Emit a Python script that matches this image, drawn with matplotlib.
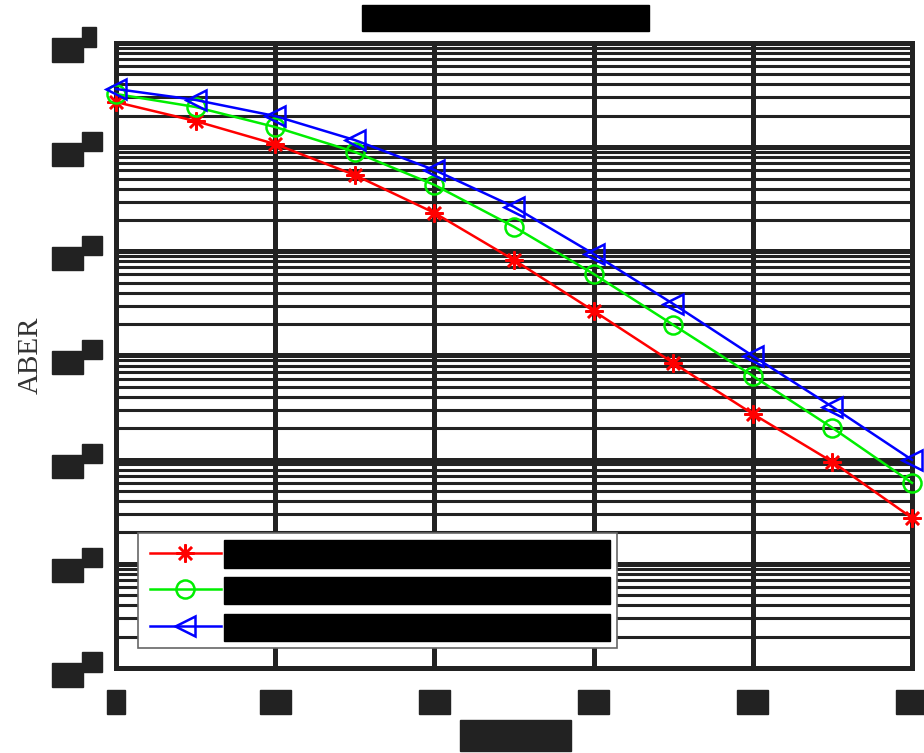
import numpy as np
import matplotlib
matplotlib.use("Agg")
import matplotlib.pyplot as plt
from matplotlib.ticker import LogLocator, NullFormatter
import matplotlib.transforms as mtransforms

# DATA
snr = [0, 5, 10, 15, 20, 25, 30, 35, 40, 45, 50]
aber_red = [0.271, 0.178, 0.107, 0.054, 0.0234, 0.00826, 0.00268, 8.49e-4, 2.75e-4, 9.52e-5, 2.76e-5]
aber_green = [0.324, 0.243, 0.156, 0.090, 0.0434, 0.0172, 0.00607, 0.00197, 6.37e-4, 2.02e-4, 5.99e-5]
aber_blue = [0.362, 0.284, 0.199, 0.117, 0.0604, 0.0267, 0.00944, 0.00313, 9.9e-4, 3.21e-4, 9.96e-5]
labels = ["Proposed detector, perfect CSI, K=2",
          "Proposed detector, imperfect CSI 1%",
          "Optimal ML detector, imperfect CSIR"]
x_ticks = [0, 10, 20, 30, 40, 50]
y_exps = [0, -1, -2, -3, -4, -5, -6]

dark = "#222222"

fig = plt.figure(figsize=(9.24, 7.53), dpi=100)
ax = fig.add_axes([0.1255, 0.1129, 0.8615, 0.83])

ax.set_yscale("log")
ax.set_xlim(0, 50)
ax.set_ylim(1e-6, 1)

# grid
ax.set_xticks(x_ticks)
ax.yaxis.set_major_locator(LogLocator(base=10, numticks=10))
ax.yaxis.set_minor_locator(LogLocator(base=10, subs=np.arange(2, 10), numticks=20))
ax.grid(True, which="major", color=dark, linewidth=3.6)
ax.grid(True, which="minor", axis="y", color=dark, linewidth=2.2)
ax.set_axisbelow(True)
for s in ax.spines.values():
    s.set_linewidth(3.6)
    s.set_color(dark)
ax.tick_params(which="both", length=0, labelleft=False, labelbottom=False)
ax.yaxis.set_minor_formatter(NullFormatter())

# curves
asterisk = (8, 2, 0)
ax.plot(snr, aber_red, color="red", lw=1.8, marker=asterisk, ms=13, mfc="none", mew=1.8,
        label=labels[0], clip_on=False, zorder=5)
ax.plot(snr, aber_green, color="#00ee00", lw=1.8, marker="o", ms=13, mfc="none", mew=1.8,
        label=labels[1], clip_on=False, zorder=5)
ax.plot(snr, aber_blue, color="blue", lw=1.8, marker="<", ms=15, mfc="none", mew=1.8,
        label=labels[2], clip_on=False, zorder=5)

# tick labels drawn as (redacted) boxes
box = dict(facecolor=dark, edgecolor=dark, pad=1.5)
ytr = ax.get_yaxis_transform()
for e in y_exps:
    t1 = mtransforms.offset_copy(ytr, fig=fig, x=-35, y=-7, units="dots")
    ax.text(0, 10.0 ** e, "10", transform=t1, ha="right", va="center",
            fontsize=14, fontweight="bold", color=dark, bbox=box)
    t2 = mtransforms.offset_copy(ytr, fig=fig, x=-32, y=6, units="dots")
    ax.text(0, 10.0 ** e, "%d" % e if e < 0 else "0", transform=t2, ha="left", va="center",
            fontsize=10.5, fontweight="bold", color=dark,
            bbox=dict(facecolor=dark, edgecolor=dark, pad=1.5))
xtr = ax.get_xaxis_transform()
for xv in x_ticks:
    t3 = mtransforms.offset_copy(xtr, fig=fig, x=0, y=-34, units="dots")
    ax.text(xv, 0, str(xv), transform=t3, ha="center", va="center",
            fontsize=14, fontweight="bold", color=dark, bbox=box)

ax.set_ylabel("ABER", fontsize=21, family="Liberation Serif", color="#333333", labelpad=52)
fig.text(0.558, 0.023, "SNR (dB)", ha="center", va="center", fontsize=16,
         color=dark, bbox=dict(facecolor=dark, edgecolor=dark, pad=4))
fig.text(0.547, 0.976, "ABER versus SNR comparison", ha="center", va="center",
         fontsize=13.5, color="black", bbox=dict(facecolor="black", edgecolor="black", pad=2.5))

leg = ax.legend(loc="lower left", bbox_to_anchor=(0.0276, 0.032),
                prop={"family": "DejaVu Sans Mono", "size": 12.85},
                frameon=True, fancybox=False, edgecolor="#666666", framealpha=1,
                handlelength=4.0, handletextpad=0.45, borderpad=0.65, labelspacing=1.05,
                borderaxespad=0)
leg.get_frame().set_linewidth(1.2)
for t in leg.get_texts():
    t.set_color("black")
    t.set_bbox(dict(facecolor="black", edgecolor="black", pad=3.3))

fig.savefig("out.png", dpi=100)
